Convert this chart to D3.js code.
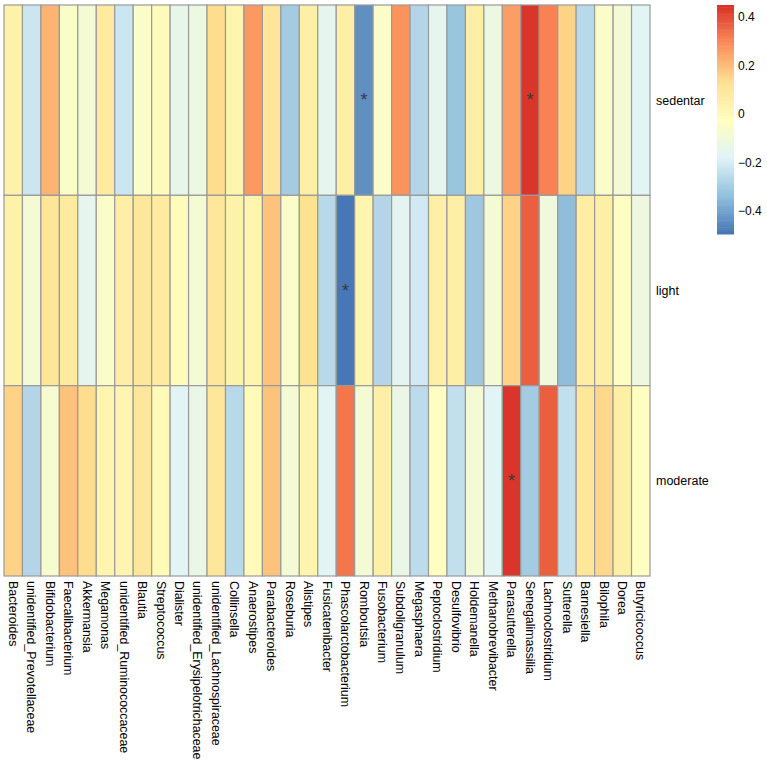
<!DOCTYPE html>
<html>
<head>
<meta charset="utf-8">
<script src="https://cdn.jsdelivr.net/npm/d3@7"></script>
<style>
  body { margin: 0; background: #fff; }
  svg { display: block; font-family: "Liberation Sans", Arial, sans-serif; }
</style>
</head>
<body>
<div class="container"></div>
<script>
// genera (columns) and activity levels (rows)
const genera = [
  "Bacteroides", "unidentified_Prevotellaceae", "Bifidobacterium", "Faecalibacterium",
  "Akkermansia", "Megamonas", "unidentified_Ruminococcaceae", "Blautia", "Streptococcus",
  "Dialister", "unidentified_Erysipelotrichaceae", "unidentified_Lachnospiraceae",
  "Collinsella", "Anaerostipes", "Parabacteroides", "Roseburia", "Alistipes",
  "Fusicatenibacter", "Phascolarctobacterium", "Romboutsia", "Fusobacterium",
  "Subdoligranulum", "Megasphaera", "Peptoclostridium", "Desulfovibrio", "Holdemanella",
  "Methanobrevibacter", "Parasutterella", "Senegalimassilia", "Lachnoclostridium",
  "Sutterella", "Barnesiella", "Bilophila", "Dorea", "Butyricicoccus"
];
const groups = ["sedentar", "light", "moderate"];

// correlation values
const sedentar = [0.04, -0.22, 0.22, -0.05, -0.08, 0.08, -0.22, -0.05, -0.01, -0.14, -0.12, 0.14,
  0.03, 0.27, 0.11, -0.30, 0.06, -0.15, 0.06, -0.44, -0.05, 0.28, -0.27, -0.15, -0.32, 0.06,
  -0.12, 0.26, 0.44, 0.31, 0.16, -0.26, -0.05, -0.08, -0.17];
const light = [0.04, -0.08, 0.11, 0.08, -0.15, -0.05, 0.06, 0.10, 0.08, -0.01, -0.08, 0.10,
  0.04, 0.03, 0.19, -0.05, 0.13, -0.26, -0.49, 0.03, -0.27, -0.16, -0.21, 0.06, 0.06, -0.31,
  -0.08, 0.16, 0.37, -0.10, -0.34, 0.07, 0.06, -0.03, -0.11];
const moderate = [0.16, -0.27, -0.07, 0.19, 0.14, 0.03, 0.03, 0.10, 0.00, -0.17, -0.13, 0.10,
  -0.26, -0.01, 0.19, -0.08, 0.03, -0.17, 0.33, -0.08, 0.06, -0.13, -0.25, -0.03, -0.24, -0.08,
  -0.17, 0.44, -0.30, 0.37, -0.24, 0.10, 0.15, 0.06, -0.03];

// significant cells: [group, genus]
const stars = [["sedentar", "Romboutsia"], ["sedentar", "Senegalimassilia"],
  ["light", "Phascolarctobacterium"], ["moderate", "Parasutterella"]];

const legendTicks = [-0.4, -0.2, 0, 0.2, 0.4];
const palette = ["#4575B4", "#91BFDB", "#E0F3F8", "#FFFFBF", "#FEE090", "#FC8D59", "#D73027"];
const vmin = -0.495, vmax = 0.449;

const values = { sedentar: sedentar, light: light, moderate: moderate };
const cells = [];
groups.forEach(g => genera.forEach((n, i) => cells.push({ g: g, n: n, v: values[g][i] })));

const width = 767, height = 762;
const grid = { left: 4, top: 5, right: 650, bottom: 576 };

const svg = d3.select(".container").append("svg")
  .attr("width", width).attr("height", height);

const x = d3.scaleBand().domain(genera).range([grid.left, grid.right]);
const y = d3.scaleBand().domain(groups).range([grid.top, grid.bottom]);
const color = d3.scaleLinear()
  .domain(d3.range(palette.length).map(i => vmin + (vmax - vmin) * i / (palette.length - 1)))
  .range(palette)
  .interpolate(d3.interpolateRgb)
  .clamp(true);

svg.append("g").selectAll("rect").data(cells).join("rect")
  .attr("x", d => x(d.n)).attr("y", d => y(d.g))
  .attr("width", x.bandwidth()).attr("height", y.bandwidth())
  .attr("fill", d => color(d.v))
  .attr("stroke", "#9a9a9a").attr("stroke-width", 1.2);

svg.append("g").selectAll("text").data(stars).join("text")
  .attr("x", d => x(d[1]) + x.bandwidth() / 2)
  .attr("y", d => y(d[0]) + y.bandwidth() / 2 + 6)
  .attr("text-anchor", "middle")
  .attr("font-size", 18).attr("fill", "#3a3a3a")
  .text("*");

// row labels
svg.append("g").selectAll("text").data(groups).join("text")
  .attr("x", grid.right + 6)
  .attr("y", d => y(d) + y.bandwidth() / 2)
  .attr("dy", "0.35em")
  .attr("font-size", 12.5).attr("fill", "#000")
  .text(d => d);

// column labels, rotated
svg.append("g").selectAll("text").data(genera).join("text")
  .attr("transform", d => `translate(${x(d) + x.bandwidth() / 2},${grid.bottom + 5}) rotate(90)`)
  .attr("dy", "0.35em")
  .attr("font-size", 12.4).attr("fill", "#000")
  .text(d => d);

// legend
const ly = d3.scaleLinear().domain([vmin, vmax]).range([234, 5]);
const lg = svg.append("g");
const steps = d3.range(100).map(i => vmin + (vmax - vmin) * i / 100);
const stepH = (ly(vmin) - ly(vmax)) / 100;
lg.selectAll("rect").data(steps).join("rect")
  .attr("x", 717).attr("width", 17)
  .attr("y", d => ly(d) - stepH).attr("height", stepH + 0.5)
  .attr("fill", d => color(d + (vmax - vmin) / 200));

lg.selectAll("text").data(legendTicks).join("text")
  .attr("x", 738).attr("y", d => ly(d))
  .attr("dy", "0.35em")
  .attr("font-size", 12).attr("fill", "#000")
  .text(d => d3.format("")(d));
</script>
</body>
</html>
